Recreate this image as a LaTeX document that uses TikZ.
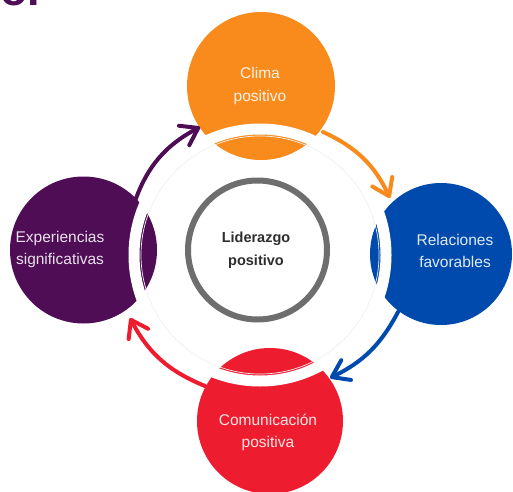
\documentclass[tikz,border=0pt]{standalone}
\usepackage{fontspec}
\setmainfont{Liberation Sans}
\usetikzlibrary{arrows.meta}
\definecolor{cOrange}{RGB}{248,139,27}
\definecolor{cBlue}{RGB}{0,74,173}
\definecolor{cRed}{RGB}{237,28,46}
\definecolor{cPurple}{RGB}{78,13,85}
\definecolor{cGray}{RGB}{110,110,110}
\definecolor{cText}{RGB}{45,45,45}
\begin{document}
\begin{tikzpicture}[x=1pt,y=1pt,
  bigcircle/.style={circle,inner sep=0pt},
  lbl/.style={align=center,font=\fontsize{15.5}{22.5}\selectfont},
  conn/.style={line width=4pt,line cap=round,
    -{Straight Barb[length=16pt,width=22pt,round]}}]
\useasboundingbox (0,0) rectangle (513,491);
\fill[white] (0,0) rectangle (513,491);
% partial title
\node[anchor=base west,inner sep=0pt,text=cPurple,font=\fontsize{45}{50}\selectfont\bfseries] (title) at (0,485.5) {o.};
% outer circles
\fill[cOrange] (261,405) circle (74);
\fill[cBlue] (441,237) circle (71);
\fill[cRed] (270,70) circle (73);
\fill[cPurple] (83.5,241) circle (73.5);
\coordinate (cO) at (261,405);
\coordinate (cB) at (441,237);
\coordinate (cR) at (270,70);
\coordinate (cP) at (83.5,241);
% white ring
\draw[white,line width=11pt] (260,236) circle (126);
\draw[black!6,line width=0.7pt] (260,236) circle (119);
% centre circle
\draw[cGray,line width=6pt,fill=white] (257.5,241) circle (69.5);
\node[lbl,text=cText,font=\fontsize{14.5}{22.5}\selectfont\bfseries] (lead) at (256,241) {Liderazgo\\positivo};
% labels
\node[lbl,text=white!88!cOrange] (clima) at (260,405) {Clima\\positivo};
\node[lbl,text=white!88!cBlue] (rel) at (455,240) {Relaciones\\favorables};
\node[lbl,text=white!88!cRed] (com) at (268,58.5) {Comunicación\\positiva};
\node[lbl,text=white!88!cPurple] (exp) at (60,241.5) {Experiencias\\significativas};
% connector end points
\coordinate (oS) at (323,359); \coordinate (oE) at (390,293);
\coordinate (bS) at (398,179); \coordinate (bE) at (330,113);
\coordinate (rS) at (205,105); \coordinate (rE) at (130,173);
\coordinate (pS) at (133,284); \coordinate (pE) at (200,364);
\draw[conn,cOrange] (oS) to[bend left=20] (oE);
\draw[conn,cBlue] (bS) to[bend left=18] (bE);
\draw[conn,cRed] (rS) to[bend left=20] (rE);
\draw[conn,cPurple] (pS) to[bend left=22] (pE);
\end{tikzpicture}
\end{document}
